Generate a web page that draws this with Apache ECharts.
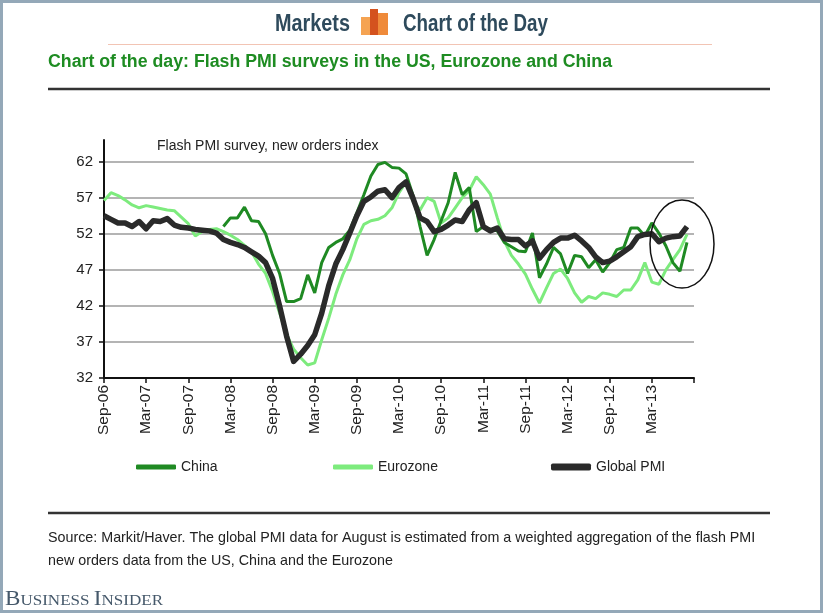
<!DOCTYPE html>
<html>
<head>
<meta charset="utf-8">
<script src="https://cdn.jsdelivr.net/npm/echarts@6/dist/echarts.min.js"></script>
<style>
html,body{margin:0;padding:0;background:#fff;}
#c{width:824px;height:614px;}
</style>
</head>
<body>
<div id="c"></div>
<script>
const categories = [
"Sep-06","Oct-06","Nov-06","Dec-06",
"Jan-07","Feb-07","Mar-07","Apr-07","May-07","Jun-07","Jul-07","Aug-07","Sep-07","Oct-07","Nov-07","Dec-07",
"Jan-08","Feb-08","Mar-08","Apr-08","May-08","Jun-08","Jul-08","Aug-08","Sep-08","Oct-08","Nov-08","Dec-08",
"Jan-09","Feb-09","Mar-09","Apr-09","May-09","Jun-09","Jul-09","Aug-09","Sep-09","Oct-09","Nov-09","Dec-09",
"Jan-10","Feb-10","Mar-10","Apr-10","May-10","Jun-10","Jul-10","Aug-10","Sep-10","Oct-10","Nov-10","Dec-10",
"Jan-11","Feb-11","Mar-11","Apr-11","May-11","Jun-11","Jul-11","Aug-11","Sep-11","Oct-11","Nov-11","Dec-11",
"Jan-12","Feb-12","Mar-12","Apr-12","May-12","Jun-12","Jul-12","Aug-12","Sep-12","Oct-12","Nov-12","Dec-12",
"Jan-13","Feb-13","Mar-13","Apr-13","May-13","Jun-13","Jul-13","Aug-13","Sep-13"
];

const china = [
null,null,null,null,null,null,null,null,null,null,null,null,null,null,null,null,null,
53.0, 54.2, 54.2, 55.7, 53.8, 53.7, 52.0, 49.0, 46.5, 42.6,
42.6, 43.0, 46.3, 43.8, 48.0, 50.1, 50.8, 51.3, 52.5, 54.9,
57.4, 60.0, 61.6, 61.9, 61.2, 61.1, 60.3, 57.3, 53.0, 49.0,
51.2, 53.8, 56.3, 60.5, 57.4, 58.4, 52.3, 53.0, 52.6, 52.4,
50.8, 50.2, 49.6, 49.5, 52.1, 45.9, 47.8, 50.1, 49.2, 46.5,
49.0, 48.8, 47.3, 48.4, 46.7, 48.0, 49.8, 50.1, 52.8, 52.8,
51.7, 53.5, 52.1, 50.3, 48.0, 46.8, 50.8
];

const eurozone = [
56.6, 57.7, 57.3, 56.7, 56.0, 55.6, 55.9, 55.7, 55.5, 55.3,
55.2, 54.3, 53.4, 51.7, 52.3, 52.6, 52.7, 52.3, 51.8, 51.2,
50.4, 49.5, 47.8, 46.5, 44.0, 41.0, 38.0, 36.0, 34.8, 33.8,
34.1, 37.3, 40.3, 43.6, 46.3, 48.4, 51.3, 53.3, 53.8, 54.0,
54.5, 55.6, 57.7, 59.2, 56.5, 55.3, 57.0, 56.5, 53.5, 54.2,
55.6, 57.0, 58.0, 59.9, 58.8, 57.5, 54.2, 51.0, 49.0, 47.8,
46.4, 44.3, 42.4, 44.5, 46.5, 47.1, 45.8, 43.8, 42.5, 43.3,
43.0, 43.8, 43.6, 43.3, 44.2, 44.2, 45.6, 48.0, 45.3, 45.0,
47.0, 48.4, 49.8, 51.9
];

const globalPMI = [
54.5, 54.0, 53.5, 53.5, 53.0, 53.7, 52.7, 53.8, 53.7, 54.1,
53.2, 52.9, 52.8, 52.6, 52.5, 52.4, 52.1, 51.2, 50.8, 50.5,
50.1, 49.5, 48.9, 48.0, 45.8, 42.0, 37.8, 34.3, 35.3, 36.5,
38.0, 41.0, 44.8, 47.8, 49.8, 52.1, 54.5, 56.5, 57.1, 57.9,
58.1, 57.0, 58.4, 59.2, 56.9, 54.2, 53.7, 52.3, 52.6, 53.2,
53.9, 53.7, 55.3, 56.3, 53.0, 52.4, 52.8, 51.3, 51.2, 51.2,
50.3, 51.0, 48.6, 49.8, 50.8, 51.4, 51.4, 51.8, 51.0, 50.1,
48.8, 48.0, 48.2, 48.8, 49.5, 50.2, 51.6, 51.9, 52.0, 50.9,
51.4, 51.6, 51.7, 53.0
];

const yTicks = [32, 37, 42, 47, 52, 57, 62];
const seriesNames = ["China", "Eurozone", "Global PMI"];

const SANS = "'Liberation Sans', Arial, sans-serif";
const SERIF = "'Liberation Serif', 'Times New Roman', serif";

// horizontal condensing helper for the narrow header typeface
const measureCtx = document.createElement('canvas').getContext('2d');
function fitScale(text, font, targetWidth) {
  measureCtx.font = font;
  const w = measureCtx.measureText(text).width;
  return w > 0 ? targetWidth / w : 1;
}
function condensedText(text, font, x, yMid, targetWidth, fill) {
  return {
    type: 'text', x: x, y: yMid, originX: 0, originY: 0,
    scaleX: fitScale(text, font, targetWidth),
    style: {text: text, font: font, fill: fill, x: 0, y: 0, textAlign: 'left', textVerticalAlign: 'middle'}
  };
}

const HEAD_FONT = "bold 23px " + SANS;
const SUB_FONT = "bold 18px " + SANS;

// Business Insider wordmark width (small caps)
measureCtx.font = "21px " + SERIF;
let biW = measureCtx.measureText('B').width + measureCtx.measureText('I').width;
measureCtx.font = "15.5px " + SERIF;
biW += measureCtx.measureText('USINESS ').width + measureCtx.measureText('NSIDER').width;
const biScale = 158 / biW;

const chart = echarts.init(document.getElementById('c'), null, {renderer: 'canvas'});

const legendBase = {
  icon: 'roundRect',
  itemWidth: 40,
  itemHeight: 5,
  padding: 0,
  top: 460,
  textStyle: {fontFamily: SANS, fontSize: 14, color: '#222'}
};

chart.setOption({
  animation: false,
  backgroundColor: '#fff',
  grid: {left: 104, right: 130, top: 140, bottom: 236, containLabel: false},
  xAxis: {
    type: 'category',
    data: categories,
    boundaryGap: false,
    axisLine: {lineStyle: {color: '#111', width: 2}},
    axisTick: {
      interval: (i) => i % 6 === 0,
      length: 5,
      lineStyle: {color: '#111', width: 1.5}
    },
    axisLabel: {
      interval: (i) => i % 6 === 0 && i < 84,
      rotate: 90,
      margin: 7,
      fontFamily: SANS,
      fontSize: 15.5,
      color: '#222'
    },
    splitLine: {show: false}
  },
  yAxis: {
    type: 'value',
    min: 32,
    max: 65,
    interval: 5,
    axisLine: {show: true, lineStyle: {color: '#111', width: 2}},
    axisTick: {show: true, length: 5, lineStyle: {color: '#111', width: 1.5}, customValues: yTicks},
    axisLabel: {
      customValues: yTicks,
      margin: 11,
      fontFamily: SANS,
      fontSize: 15,
      color: '#222'
    },
    splitLine: {show: true, showMinLine: false, lineStyle: {color: '#b4b4b4', width: 2}}
  },
  legend: [
    Object.assign({}, legendBase, {left: 136, data: [seriesNames[0]]}),
    Object.assign({}, legendBase, {left: 333, data: [seriesNames[1]]}),
    Object.assign({}, legendBase, {left: 551, itemHeight: 7, data: [seriesNames[2]]})
  ],
  series: [
    {
      name: seriesNames[0], type: 'line', data: china, showSymbol: false, symbol: 'none',
      color: '#1f8a23', lineStyle: {color: '#1f8a23', width: 3}, connectNulls: false, z: 3
    },
    {
      name: seriesNames[1], type: 'line', data: eurozone, showSymbol: false, symbol: 'none',
      color: '#7deb7d', lineStyle: {color: '#7deb7d', width: 3}, z: 2
    },
    {
      name: seriesNames[2], type: 'line', data: globalPMI, showSymbol: false, symbol: 'none',
      color: '#2a2a2a', lineStyle: {color: '#2a2a2a', width: 5.5, join: 'round'}, z: 4
    }
  ],
  graphic: [
    // frame
    {type: 'rect', shape: {x: 1.5, y: 1.5, width: 820, height: 610}, style: {fill: 'none', stroke: '#94a8b8', lineWidth: 3}, z: 100},
    // header
    condensedText('Markets', HEAD_FONT, 275, 25, 75, '#2e4a5c'),
    {type: 'rect', shape: {x: 361, y: 17, width: 9, height: 18}, style: {fill: '#f5a352'}},
    {type: 'rect', shape: {x: 370, y: 9, width: 8, height: 26}, style: {fill: '#d4521e'}},
    {type: 'rect', shape: {x: 378, y: 13, width: 10, height: 22}, style: {fill: '#ef8a3a'}},
    condensedText('Chart of the Day', HEAD_FONT, 403, 25, 145, '#2e4a5c'),
    {type: 'line', shape: {x1: 108, y1: 44.5, x2: 712, y2: 44.5}, style: {stroke: '#f2c4b4', lineWidth: 1}},
    condensedText('Chart of the day: Flash PMI surveys in the US, Eurozone and China', SUB_FONT, 48, 62, 564, '#1e8c22'),
    {type: 'line', shape: {x1: 48, y1: 89, x2: 770, y2: 89}, style: {stroke: '#333', lineWidth: 2.5}},
    // in-chart note
    {type: 'text', left: 157, top: 139, style: {text: 'Flash PMI survey, new orders index', font: "14px " + SANS, fill: '#222'}},
    // annotation ellipse
    {type: 'ellipse', shape: {cx: 682, cy: 244, rx: 32, ry: 44}, style: {fill: 'none', stroke: '#111', lineWidth: 1.5}, z: 50},
    // footer
    {type: 'line', shape: {x1: 48, y1: 513, x2: 770, y2: 513}, style: {stroke: '#333', lineWidth: 2.5}},
    {type: 'text', left: 48, top: 531, style: {text: 'Source: Markit/Haver. The global PMI data for August is estimated from a weighted aggregation of the flash PMI', font: "14.3px " + SANS, fill: '#222'}},
    {type: 'text', left: 48, top: 554, style: {text: 'new orders data from the US, China and the Eurozone', font: "14.3px " + SANS, fill: '#222'}},
    {type: 'text', x: 5, y: 609, originX: 0, originY: 0, scaleX: biScale, style: {
      x: 0, y: 0, textVerticalAlign: 'bottom',
      text: '{b|B}{s|USINESS }{b|I}{s|NSIDER}',
      rich: {
        b: {fontFamily: SERIF, fontSize: 21, fill: '#45586a', color: '#45586a', lineHeight: 20},
        s: {fontFamily: SERIF, fontSize: 15.5, fill: '#45586a', color: '#45586a', lineHeight: 20, verticalAlign: 'bottom'}
      }
    }}
  ]
});
</script>
</body>
</html>
